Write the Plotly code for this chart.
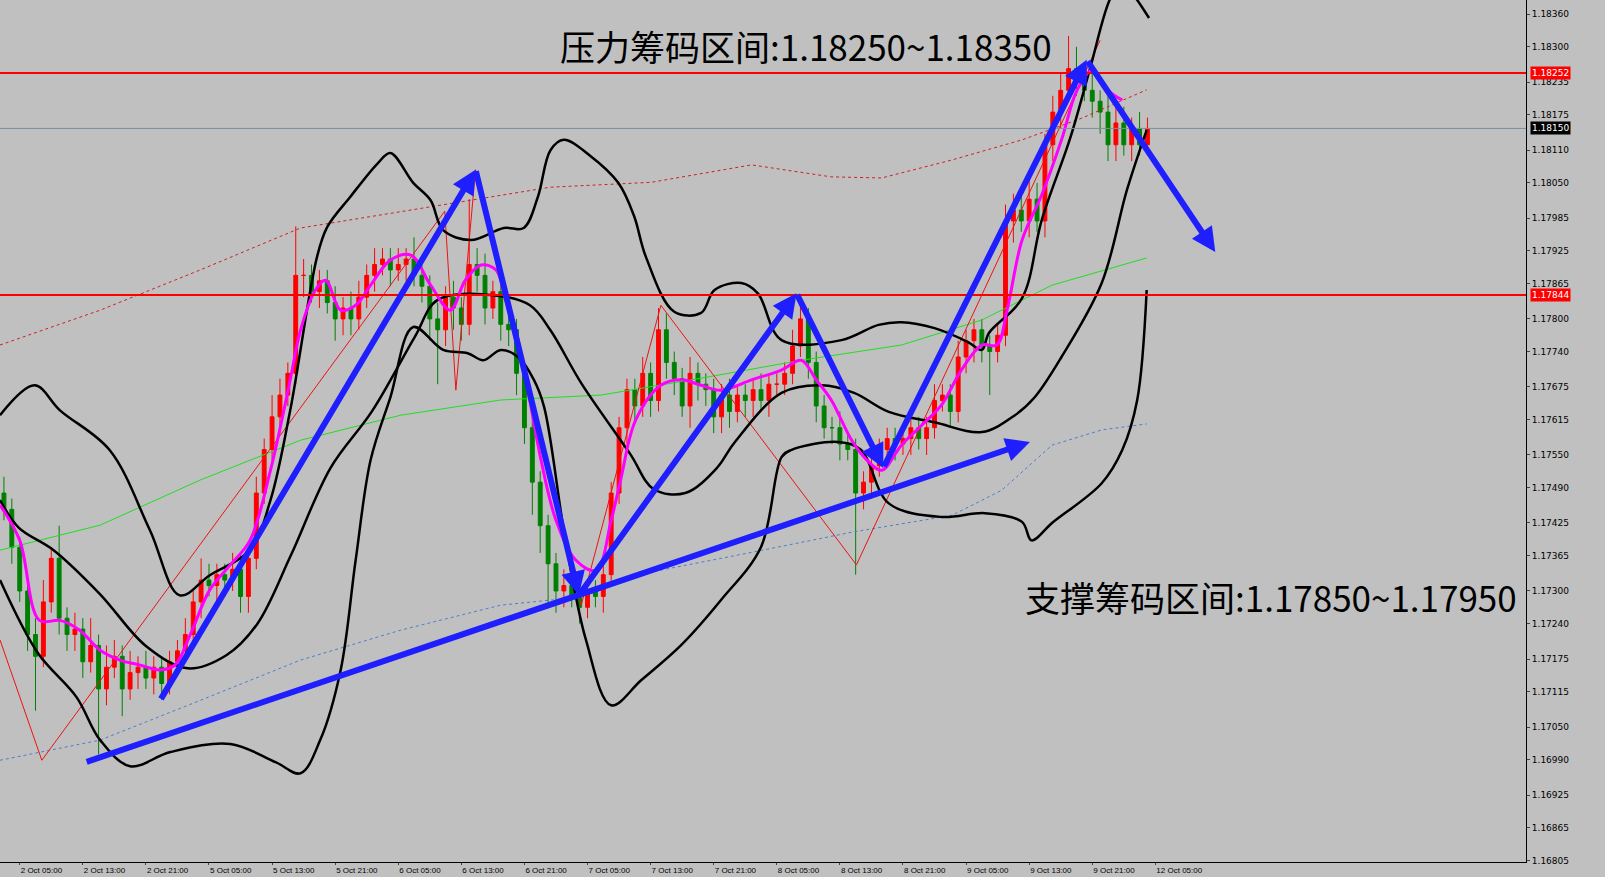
import plotly.graph_objects as go

# -----------------------------
# DATA (EURUSD H1)
# -----------------------------
bar_idx = list(range(-2, 144))
closes = [
    1.1745, 1.1738, 1.1730, 1.1722, 1.1718, 1.1728, 1.1736, 1.1725, 1.1722, 1.1723,
    1.1717, 1.1720, 1.1712, 1.1716, 1.1718, 1.1712, 1.1715, 1.1716, 1.1714, 1.1716,
    1.1713, 1.1717, 1.1719, 1.1722, 1.1728, 1.1732, 1.1731, 1.1733, 1.1732, 1.1734,
    1.1729, 1.1736, 1.1748, 1.1756, 1.1762, 1.1766, 1.1770, 1.1788, 1.1788, 1.1785,
    1.1787, 1.1783, 1.1780, 1.1782, 1.1780, 1.1784, 1.1788, 1.1790, 1.1791, 1.1789,
    1.1790, 1.1791, 1.1788, 1.1786, 1.1780, 1.1778, 1.1784, 1.1782, 1.1779, 1.1790,
    1.1788, 1.1782, 1.1785, 1.1779, 1.1778, 1.1770, 1.1760, 1.1750, 1.1742, 1.1735,
    1.1730, 1.1731, 1.1729, 1.1727, 1.1730, 1.1729, 1.1733, 1.1748, 1.1760, 1.1767,
    1.1764, 1.1770, 1.1765, 1.1778, 1.1772, 1.1769, 1.1764, 1.1770, 1.1768, 1.1767,
    1.1762, 1.1766, 1.1763, 1.1766, 1.1765, 1.1767, 1.1765, 1.1768, 1.1768, 1.1770,
    1.1775, 1.1780, 1.1772, 1.1764, 1.1760, 1.1760, 1.1757, 1.1756, 1.1748, 1.1750,
    1.1753, 1.1756, 1.1758, 1.1757, 1.1758, 1.1760, 1.1758, 1.1760, 1.1765, 1.1766,
    1.1763, 1.1773, 1.1776, 1.1778, 1.1775, 1.1774, 1.1777, 1.1798, 1.1800, 1.1798,
    1.1802, 1.1798, 1.1812, 1.1818, 1.1822, 1.1826, 1.1824, 1.1822, 1.1820, 1.1818,
    1.1812, 1.1816, 1.1812, 1.1815, 1.1812, 1.1815,
]
first_open = 1.1748
upper_wick_pips = [
    3, 2, 2, 2, 3, 4, 2, 6, 2, 3,
    2, 5, 2, 4, 3, 2, 4, 2, 3, 2,
    2, 2, 2, 3, 2, 4, 3, 2, 2, 3,
    3, 2, 3, 2, 4, 3, 2, 9, 3, 2,
    2, 2, 3, 2, 3, 3, 2, 3, 2, 2,
    3, 2, 4, 2, 2, 3, 2, 3, 2, 12,
    3, 4, 2, 2, 2, 2, 2, 2, 2, 2,
    2, 3, 2, 2, 2, 2, 3, 2, 2, 2,
    2, 3, 2, 4, 3, 2, 2, 3, 2, 2,
    2, 2, 3, 2, 2, 2, 3, 2, 2, 2,
    3, 4, 2, 2, 2, 2, 3, 2, 2, 2,
    3, 2, 2, 2, 2, 2, 2, 2, 3, 2,
    2, 3, 2, 2, 2, 2, 2, 3, 3, 3,
    4, 3, 2, 3, 3, 6, 4, 3, 3, 2,
    3, 3, 3, 2, 3, 2,
]
lower_wick_pips = [
    2, 3, 2, 3, 10, 2, 2, 3, 3, 3,
    3, 2, 12, 3, 2, 5, 2, 3, 2, 3,
    3, 2, 2, 2, 2, 3, 2, 3, 3, 2,
    3, 3, 2, 2, 2, 3, 2, 2, 4, 2,
    3, 2, 4, 3, 3, 2, 2, 3, 2, 3,
    2, 3, 2, 3, 4, 10, 3, 4, 3, 2,
    3, 3, 2, 3, 3, 4, 3, 6, 5, 8,
    4, 3, 2, 3, 2, 2, 3, 2, 2, 3,
    3, 2, 3, 2, 3, 3, 2, 4, 3, 3,
    3, 3, 3, 2, 3, 3, 2, 3, 2, 2,
    2, 2, 3, 3, 2, 3, 3, 2, 15, 3,
    3, 2, 2, 3, 2, 3, 2, 3, 2, 2,
    3, 2, 3, 4, 3, 8, 2, 2, 4, 2,
    3, 2, 3, 3, 3, 2, 3, 2, 3, 4,
    3, 3, 2, 3, 2, 2,
]

# indicator lines (bar index, price)
bb_upper_x = [-2.5, 1.9, 5.1, 11.4, 16.5, 20.3, 24.1, 29.2, 31.8, 34.3, 37.7, 39.0, 41.9, 45.4, 47.0,
              49.9, 52.1, 53.7, 57.2, 61.4, 63.9, 65.7, 67.3, 69.0, 72.4, 75.9, 77.9, 79.4, 83.0,
              86.4, 88.1, 91.5, 93.6, 96.6, 104.2, 108.9, 111.8, 116.0, 120.3, 122.0, 122.9,
              127.1, 129.6, 133.2, 135.7, 138.2, 139.8, 141.7, 143.2]
bb_upper_y = [1.17623, 1.17678, 1.17632, 1.17559, 1.17412, 1.17292, 1.17329, 1.17375, 1.17467,
              1.17632, 1.17914, 1.17969, 1.18024, 1.18086, 1.18105, 1.18050, 1.18018, 1.17963,
              1.17945, 1.17967, 1.17967, 1.18024, 1.18110, 1.18129, 1.18099, 1.18050, 1.17989,
              1.17914, 1.17813, 1.17811, 1.17853, 1.17866, 1.17847, 1.17761, 1.17761, 1.17789,
              1.17794, 1.17783, 1.17757, 1.17743, 1.17774, 1.17838, 1.17982, 1.18132, 1.18259,
              1.18386, 1.18423, 1.18386, 1.18353]
bb_mid_x = [-2.5, -0.1, 4.3, 10.2, 16.0, 21.3, 26.2, 30.1, 34.4, 39.4, 44.7, 50.1, 53.0, 59.7,
            64.7, 67.3, 71.2, 77.4, 80.4, 84.4, 88.4, 90.6, 96.6, 101.7, 105.8, 110.2, 116.0,
            122.0, 126.2, 128.7, 132.1, 137.2, 140.4, 142.9]
bb_mid_y = [1.17467, 1.17416, 1.17375, 1.17294, 1.17199, 1.17158, 1.17182, 1.17239, 1.17366,
            1.17526, 1.17631, 1.17767, 1.17835, 1.17844, 1.17825, 1.17779, 1.17682, 1.17552,
            1.17487, 1.17480, 1.17526, 1.17572, 1.17664, 1.17678, 1.17664, 1.17629, 1.17610,
            1.17592, 1.17623, 1.17656, 1.17730, 1.17866, 1.18037, 1.18147]
bb_lower_x = [-2.5, 2.3, 7.2, 10.2, 14.0, 19.1, 26.7, 32.5, 35.6, 38.1, 40.7, 42.6, 44.5, 47.0,
              49.9, 53.7, 56.8, 58.8, 61.0, 63.2, 65.2, 66.5, 69.2, 71.8, 75.0, 78.8, 83.9,
              88.9, 94.0, 96.6, 97.8, 103.8, 106.7, 110.2, 116.9, 122.4, 127.1, 128.3, 130.9,
              137.2, 139.8, 141.7, 142.9]
bb_lower_y = [1.17320, 1.17186, 1.17105, 1.17026, 1.16978, 1.17004, 1.17019, 1.16985, 1.16965,
              1.17026, 1.17155, 1.17357, 1.17541, 1.17656, 1.17785, 1.17743, 1.17737, 1.17724,
              1.17743, 1.17730, 1.17688, 1.17638, 1.17393, 1.17210, 1.17090, 1.17136, 1.17201,
              1.17283, 1.17381, 1.17546, 1.17559, 1.17574, 1.17559, 1.17461, 1.17436, 1.17443,
              1.17427, 1.17393, 1.17425, 1.17498, 1.17559, 1.17651, 1.17853]

ma_red_x = [-2.5, 10.2, 22.9, 35.6, 52.1, 67.3, 80.1, 92.8, 102.9, 109.3, 118.2, 127.1, 134.7, 142.9]
ma_red_y = [1.17752, 1.17816, 1.17890, 1.17967, 1.18006, 1.18042, 1.18051, 1.18083, 1.18061,
            1.18059, 1.18092, 1.18129, 1.18169, 1.18221]
ma_green_x = [-2.5, 10.2, 22.9, 35.6, 48.3, 61.0, 73.7, 86.4, 99.1, 111.8, 122.0, 130.9, 142.9]
ma_green_y = [1.17375, 1.17421, 1.17504, 1.17577, 1.17623, 1.17651, 1.17660, 1.17691, 1.17724,
              1.17752, 1.17798, 1.17862, 1.17912]
ma_blue_x = [-2.5, 10.2, 22.9, 35.6, 48.3, 61.0, 71.2, 80.1, 92.8, 105.5, 118.2, 124.5, 130.9, 137.2, 142.9]
ma_blue_y = [1.16989, 1.17026, 1.17099, 1.17173, 1.17228, 1.17274, 1.17289, 1.17335, 1.17371,
             1.17408, 1.17439, 1.17485, 1.17568, 1.17596, 1.17607]
ma_fast_x = [-2.5, 0, 2.5, 5.1, 7.6, 10.2, 12.7, 15.2, 17.8, 19.7, 21.6, 24.1, 26.7, 29.2, 31.8,
             34.3, 35.6, 37.5, 38.8, 40.7, 42.6, 44.5, 47.0, 49.6, 52.1, 54.6, 56.5, 58.5, 60.4,
             61.6, 62.9, 64.2, 66.1, 68.0, 70.5, 73.1, 75.0, 76.2, 78.1, 81.3, 83.9, 86.4, 88.9,
             92.8, 96.6, 99.1, 101.0, 102.9, 105.5, 107.4, 109.3, 111.8, 114.4, 116.9, 119.4,
             122.0, 123.9, 125.2, 127.1, 129.6, 132.1, 134.1, 136.0, 137.9, 139.8]
ma_fast_y = [1.17458, 1.17393, 1.17246, 1.17246, 1.17228, 1.17191, 1.17173, 1.17164, 1.17155,
             1.17164, 1.17219, 1.17302, 1.17348, 1.17393, 1.17522, 1.17688, 1.17779, 1.17853,
             1.17871, 1.17816, 1.17825, 1.17862, 1.17908, 1.17917, 1.17862, 1.17816, 1.17871,
             1.17899, 1.17890, 1.17835, 1.17779, 1.17688, 1.17541, 1.17430, 1.17357, 1.17338,
             1.17430, 1.17504, 1.17614, 1.17678, 1.17688, 1.17678, 1.17669, 1.17688, 1.17706,
             1.17724, 1.17688, 1.17651, 1.17577, 1.17541, 1.17522, 1.17568, 1.17605, 1.17642,
             1.17706, 1.17752, 1.17752, 1.17816, 1.17945, 1.18028, 1.18129, 1.18221, 1.18257,
             1.18221, 1.18202]
zigzag_x = [-2.5, 2.8, 53.9, 55.3, 57.8, 71.2, 81.3, 106.1, 137.0]
zigzag_y = [1.17210, 1.16989, 1.17998, 1.17669, 1.18074, 1.17274, 1.17825, 1.17348, 1.18312]

# hand-drawn arrows: (x0, y0, x1, y1)
arrows = [
    (17.8, 1.17099, 57.8, 1.18074),
    (57.8, 1.18074, 70.9, 1.17292),
    (70.9, 1.17292, 98.5, 1.17847),
    (98.5, 1.17847, 109.5, 1.17526),
    (109.5, 1.17526, 135.3, 1.18276),
    (135.3, 1.18276, 151.6, 1.17923),
    (8.3, 1.16985, 128.1, 1.17574),
]

resist_level = 1.18252
support_level = 1.17844
last_price = 1.18150
y_ticks = [1.18360, 1.18300, 1.18235, 1.18175, 1.18110, 1.18050, 1.17985, 1.17925, 1.17865,
           1.17800, 1.17740, 1.17675, 1.17615, 1.17550, 1.17490, 1.17425, 1.17365, 1.17300,
           1.17240, 1.17175, 1.17115, 1.17050, 1.16990, 1.16925, 1.16865, 1.16805]
x_tick_pos = list(range(0, 145, 8))
x_tick_text = ["2 Oct 05:00", "2 Oct 13:00", "2 Oct 21:00", "5 Oct 05:00", "5 Oct 13:00",
               "5 Oct 21:00", "6 Oct 05:00", "6 Oct 13:00", "6 Oct 21:00", "7 Oct 05:00",
               "7 Oct 13:00", "7 Oct 21:00", "8 Oct 05:00", "8 Oct 13:00", "8 Oct 21:00",
               "9 Oct 05:00", "9 Oct 13:00", "9 Oct 21:00", "12 Oct 05:00"]

# -----------------------------
# BUILD OHLC
# -----------------------------
opens = [first_open] + closes[:-1]
highs = [max(o, c) + w * 0.0001 for o, c, w in zip(opens, closes, upper_wick_pips)]
lows = [min(o, c) - w * 0.0001 for o, c, w in zip(opens, closes, lower_wick_pips)]

fig = go.Figure()

fig.add_trace(go.Scatter(x=ma_red_x, y=ma_red_y, mode="lines",
                         line=dict(color="#d02020", width=1, dash="dot")))
fig.add_trace(go.Scatter(x=ma_green_x, y=ma_green_y, mode="lines",
                         line=dict(color="#22dd22", width=1)))
fig.add_trace(go.Scatter(x=ma_blue_x, y=ma_blue_y, mode="lines",
                         line=dict(color="#4a80c8", width=1, dash="dot")))
fig.add_trace(go.Scatter(x=zigzag_x, y=zigzag_y, mode="lines",
                         line=dict(color="#ee1111", width=1)))
for bx, by in [(bb_upper_x, bb_upper_y), (bb_mid_x, bb_mid_y), (bb_lower_x, bb_lower_y)]:
    fig.add_trace(go.Scatter(x=bx, y=by, mode="lines", line_shape="spline",
                             line=dict(color="black", width=2.5)))

fig.add_trace(go.Candlestick(
    x=bar_idx, open=opens, high=highs, low=lows, close=closes,
    increasing=dict(line=dict(color="#ff0000", width=1), fillcolor="#ff0000"),
    decreasing=dict(line=dict(color="#008000", width=1), fillcolor="#008000"),
    whiskerwidth=0,
))
fig.add_trace(go.Scatter(x=ma_fast_x, y=ma_fast_y, mode="lines", line_shape="spline",
                         line=dict(color="#ff00ff", width=3)))

# horizontal levels
for lvl, col, w in [(resist_level, "#ff0000", 2), (support_level, "#ff0000", 2), (last_price, "#7890a0", 1)]:
    fig.add_shape(type="line", xref="paper", x0=0, x1=1, yref="y", y0=lvl, y1=lvl,
                  line=dict(color=col, width=w))

# arrows
for x0, y0, x1, y1 in arrows:
    fig.add_annotation(x=x1, y=y1, ax=x0, ay=y0, xref="x", yref="y", axref="x", ayref="y",
                       showarrow=True, arrowhead=2, arrowsize=0.8, arrowwidth=6,
                       arrowcolor="#1e1eff", text="")

# price tags on the right axis
for lvl, bg in [(resist_level, "#ff0000"), (support_level, "#ff0000"), (last_price, "#000000")]:
    fig.add_annotation(x=1.0, xref="paper", xanchor="left", y=lvl, yref="y", text=f"{lvl:.5f}",
                       showarrow=False, bgcolor=bg, font=dict(color="white", size=9, family="DejaVu Sans"),
                       borderpad=1, xshift=4)

fig.add_annotation(x=99.7, y=1.18303, xref="x", yref="y", text="压力筹码区间:1.18250~1.18350",
                   showarrow=False, font=dict(size=35, color="black", family="Noto Sans CJK SC"))
fig.add_annotation(x=158.7, y=1.17289, xref="x", yref="y", text="支撑筹码区间:1.17850~1.17950",
                   showarrow=False, font=dict(size=35, color="black", family="Noto Sans CJK SC"))

fig.update_layout(
    width=1605, height=877,
    margin=dict(l=0, r=79, t=0, b=15),
    paper_bgcolor="#c0c0c0", plot_bgcolor="#c0c0c0",
    showlegend=False,
    xaxis=dict(range=[-2.5, 191], tickvals=x_tick_pos, ticktext=x_tick_text,
               ticklabelposition="outside right", tickangle=0, automargin=False,
               showgrid=False, zeroline=False, rangeslider=dict(visible=False),
               showline=True, linecolor="black", linewidth=1, ticks="outside", ticklen=2,
               tickfont=dict(size=8, family="Liberation Sans", color="black")),
    yaxis=dict(range=[1.16802, 1.18386], side="right", tickvals=y_ticks,
               ticktext=[f"{v:.5f}" for v in y_ticks],
               showgrid=False, zeroline=False, showline=True, linecolor="black", linewidth=1,
               ticks="outside", ticklen=3, mirror=False, automargin=False,
               tickfont=dict(size=9, family="DejaVu Sans", color="black")),
)

fig.write_html("out.html", config={"displayModeBar": False},
               post_script="document.body.style.margin='0';document.body.style.overflow='hidden';")
